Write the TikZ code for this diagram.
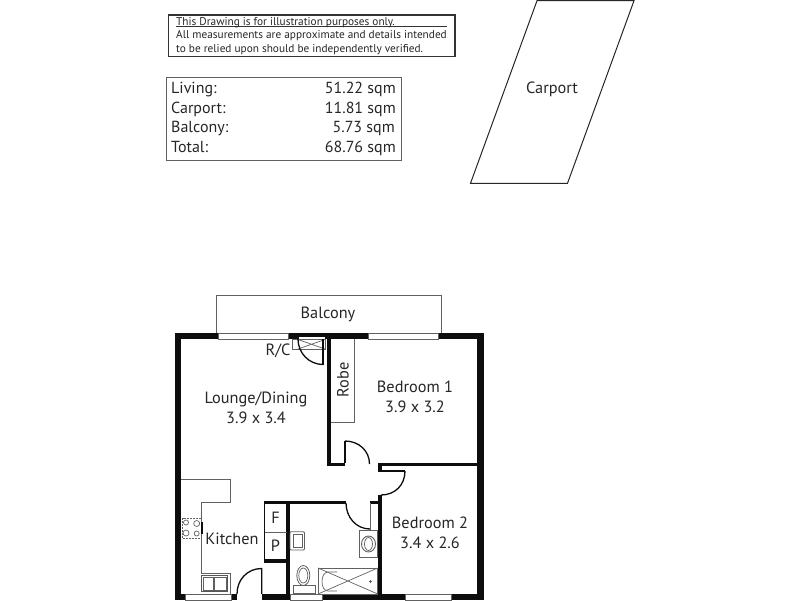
\documentclass[tikz,border=0pt]{standalone}
\usepackage{fontspec}
\setmainfont{PT Sans}
\definecolor{lin}{gray}{0.38}
\definecolor{wal}{gray}{0.05}
\tikzset{
 wall/.style={fill=wal,draw=none},
 thin line/.style={draw=lin,line width=1pt},
 door line/.style={draw=wal,line width=1.3pt},
 winbox/.style={draw=lin,line width=0.7pt,fill=white},
 lab/.style={inner sep=0pt,font=\fontsize{16.3}{20}\selectfont,text=black!85,align=center},
 small/.style={inner sep=0pt,anchor=base west,font=\fontsize{11.3}{12}\selectfont,text=black!85},
 area/.style={inner sep=0pt,font=\fontsize{16}{18}\selectfont,text=black!85}
}
\begin{document}
\begin{tikzpicture}[x=1pt,y=-1pt]
\useasboundingbox (0,0) rectangle (800,600);
% note box
\draw[draw=black!80,line width=1.4pt] (168.5,15) rectangle (455,56.5);
\draw[draw=black!80,line width=0.7pt] (176,26.5) -- (446.5,26.5);
\node[small] (n1) at (176,25) {This Drawing is for illustration purposes only.};
\node[small] (n2) at (176,38.5) {All measurements are approximate and details intended};
\node[small] (n3) at (176,52) {to be relied upon should be independently verified.};
% area box
\draw[draw=lin,line width=0.9pt] (166.5,77.5) rectangle (401,160.5);
\node[area,anchor=base west] (a1) at (171,93.5) {Living:};
\node[area,anchor=base west] (a2) at (171,113) {Carport:};
\node[area,anchor=base west] (a3) at (171,132.5) {Balcony:};
\node[area,anchor=base west] (a4) at (171,152) {Total:};
\node[area,anchor=base east] (b1) at (396,93.5) {51.22 sqm};
\node[area,anchor=base east] (b2) at (396,113) {11.81 sqm};
\node[area,anchor=base east] (b3) at (395,132.5) {5.73 sqm};
\node[area,anchor=base east] (b4) at (396,152) {68.76 sqm};
% carport
\draw[draw=black!85,line width=1pt] (537,0.7) -- (634,0.7) -- (567.5,183.3) -- (470.5,183.3) -- cycle;
\node[lab] (carport) at (552,89.5) {Carport};
% balcony
\draw[thin line] (216,333) -- (216,295.5) -- (441,295.5) -- (441,333);
\node[lab] (balc) at (328,314.5) {Balcony};
% outer walls
\fill[wall] (174.5,333) rectangle (484,339.3);
\fill[wall] (174.5,333) rectangle (181,600);
\fill[wall] (477.3,333) rectangle (484,600);
\fill[wall] (174.5,594) rectangle (484,600);
% openings top
\fill[white] (218.5,333) rectangle (288.5,339.3);
\fill[white] (298.5,336.5) rectangle (325,339.3);
\fill[white] (368,333) rectangle (438,339.3);
\draw[winbox,fill=none] (218.5,333.3) rectangle (288.5,339);
\draw[winbox,fill=none] (368,333.3) rectangle (438,339);
% openings bottom
\fill[white] (237,594) rectangle (262,600);
\fill[white] (185,594) rectangle (231.7,600);
\draw[winbox,fill=none] (185,594.3) rectangle (231.7,600);
\fill[white] (290.7,594) rectangle (322,600);
\draw[winbox,fill=none] (290.7,594.3) rectangle (322,600);
\fill[white] (405,594) rectangle (451.7,600);
\draw[winbox,fill=none] (405,594.3) rectangle (451.7,600);
% inner walls
\fill[wall] (327.3,339) rectangle (331.3,466);
\fill[wall] (327.3,462.5) rectangle (345,466);
\fill[wall] (378,462.7) rectangle (477.5,466);
\fill[wall] (378,462.7) rectangle (381.7,471.5);
\fill[wall] (377.7,495) rectangle (381.7,594);
\fill[wall] (264,500.5) rectangle (346,504);
\fill[wall] (369.5,500.5) rectangle (381,504);
\fill[wall] (286,500.5) rectangle (289.5,594);
\fill[wall] (264,559.3) rectangle (287,562.5);
% cupboards
\draw[draw=wal,line width=1pt] (264.5,504) -- (264.5,560);
\draw[thin line,line width=0.7pt] (264.5,532.3) -- (287,532.3);
\node[lab] (f) at (275.5,517.5) {F};
\node[lab] (p) at (275.5,545.5) {P};
% robe
\draw[thin line] (331,422.3) -- (354,422.3) -- (354,339);
\node[lab,rotate=90] (robe) at (343,380) {Robe};
% RC
\draw[thin line,line width=0.7pt] (292.3,339) rectangle (325.7,349.3);
\draw[thin line,line width=0.7pt] (298,339.5) -- (325,349) (298,349) -- (325,339.5);
\node[lab] (rc) at (278,350.5) {R/C};
% doors
\draw[door line] (323,365) -- (323,339);
\draw[door line] (298,339) .. controls (298,353) and (309,364.5) .. (323,364.5);
\draw[door line] (345,463) -- (345,441);
\draw[door line] (345,441) .. controls (359,441) and (369.5,451) .. (369.5,464);
\draw[door line] (381,471) -- (405,471);
\draw[door line] (405,471) .. controls (405,485) and (395,495) .. (381,495);
\draw[door line] (346,503) .. controls (346,517) and (356,529) .. (370,529);
\draw[thin line,line width=0.8pt] (370,503) -- (370,530);
\draw[door line] (237,594) .. controls (237,580) and (247,568.5) .. (261.7,568.5) -- (261.7,594);
% room labels
\node[lab] (lounge) at (256,408) {Lounge/Dining\\3.9 x 3.4};
\node[lab] (bed1) at (415,397) {Bedroom 1\\3.9 x 3.2};
\node[lab] (bed2) at (430,533) {Bedroom 2\\3.4 x 2.6};
\node[lab] (kit) at (232,539) {Kitchen};
% kitchen
\draw[thin line] (181,479.3) -- (230.5,479.3) -- (230.5,502.3) -- (201,502.3) -- (201,573) -- (230.5,573) -- (230.5,594);
\draw[thin line,line width=0.7pt,dash pattern=on 2pt off 1pt] (182.5,518) rectangle (201,538.7);
\draw[draw=lin,line width=0.7pt] (186,522.5) circle (2.5) (196.7,523.5) circle (3) (186,533) circle (3) (196.7,533.5) circle (2.5);
\fill[wal] (201,522) rectangle (203,534);
\draw[draw=wal!70,line width=0.8pt] (201.5,575) rectangle (227.5,591);
\draw[thin line,line width=0.7pt] (203.5,577) rectangle (213.5,590) (214.5,577) rectangle (226,590);
% bathroom
\draw[draw=lin,line width=0.8pt,rounded corners=1pt] (290,531.7) rectangle (304.5,550);
\draw[draw=lin,line width=0.7pt] (293,534.5) rectangle (302,547.5);
\draw[thin line,line width=0.8pt] (359,530) rectangle (377.7,557.7);
\draw[draw=lin,line width=0.9pt] (368.5,544) ellipse (7 and 8);
\draw[draw=lin,line width=0.7pt] (368.5,544) ellipse (4 and 6.5);
\draw[draw=lin,line width=0.8pt] (303.3,575.5) ellipse (6.5 and 10);
\draw[draw=lin,line width=0.7pt] (303.3,575.5) ellipse (4.5 and 7.5);
\draw[draw=lin,line width=0.8pt,fill=white] (293,585.5) rectangle (315,593.5);
\draw[thin line,line width=0.8pt] (318,568) rectangle (377.7,594);
\draw[thin line,line width=0.7pt] (318,568) -- (377.7,594) (318,594) -- (377.7,568);
\draw[thin line,line width=0.7pt] (337,572) -- (328,572) .. controls (320,572) and (320,591) .. (328,591) -- (337,591);
\draw[thin line,line width=0.6pt] (368.5,581.7) -- (371.5,581.7) (370,580.2) -- (370,583.2);
\end{tikzpicture}
\end{document}
